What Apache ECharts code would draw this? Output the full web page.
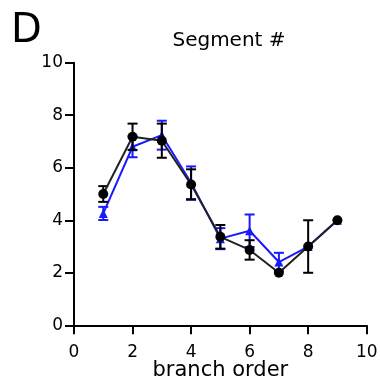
<!DOCTYPE html>
<html><head><meta charset="utf-8">
<script src="https://cdn.jsdelivr.net/npm/echarts@6/dist/echarts.min.js"></script>
<style>html,body{margin:0;padding:0;background:#fff}#c{width:380px;height:381px}</style>
</head><body><div id="c"></div>
<script>
var branchOrder = [1, 2, 3, 4, 5, 6, 7, 8, 9];
var blackMean = [5.0, 7.18, 7.03, 5.36, 3.37, 2.87, 2.0, 3.0, 4.0];
var blackErr  = [0.3, 0.5, 0.65, 0.58, 0.45, 0.37, 0, 1.0, 0];
var blueMean  = [4.26, 6.8, 7.24, 5.43, 3.3, 3.6, 2.41, 3.0, 4.0];
var blueErr   = [0.25, 0.4, 0.55, 0.62, 0.4, 0.62, 0.35, 0, 0];
var xTicks = [0, 2, 4, 6, 8, 10];
var yTicks = [0, 2, 4, 6, 8, 10];

function pts(m){ return branchOrder.map(function(x,i){return [x, m[i]];}); }
function errData(m,e){ return branchOrder.map(function(x,i){return [x, m[i]-e[i], m[i]+e[i]];}); }
function errSeries(m,e,color,z){
  return {
    type:'custom', z:z, silent:true,
    data: errData(m,e),
    encode:{x:0,y:[1,2]},
    renderItem:function(params, api){
      var lo = api.coord([api.value(0), api.value(1)]);
      var hi = api.coord([api.value(0), api.value(2)]);
      if (Math.abs(hi[1]-lo[1]) < 0.5) return null;
      var w = 5;
      var st = {stroke:color, lineWidth:2, fill:null};
      return {type:'group', children:[
        {type:'line', shape:{x1:lo[0],y1:lo[1],x2:hi[0],y2:hi[1]}, style:st},
        {type:'line', shape:{x1:lo[0]-w,y1:lo[1],x2:lo[0]+w,y2:lo[1]}, style:st},
        {type:'line', shape:{x1:hi[0]-w,y1:hi[1],x2:hi[0]+w,y2:hi[1]}, style:st}
      ]};
    }
  };
}
var font = 'DejaVu Sans, sans-serif';
var chart = echarts.init(document.getElementById('c'), null, {renderer:'canvas'});
chart.setOption({
  animation:false,
  backgroundColor:'#fff',
  title:[
    {text:'D', left:6, top:7, textStyle:{fontFamily:font, fontSize:40, fontWeight:'normal', color:'#000'}},
    {text:'Segment #', left:224, top:26, textAlign:'center', textStyle:{fontFamily:font, fontSize:20, fontWeight:'normal', color:'#000'}}
  ],
  grid:{left:74, right:13.3, top:62.7, bottom:55.7, containLabel:false, outerBoundsMode:'none'},
  xAxis:{
    type:'value', min:0, max:10, interval:2,
    name:'branch order', nameLocation:'middle', nameGap:35, nameMoveOverlap:false,
    nameTextStyle:{fontFamily:font, fontSize:21, color:'#000', verticalAlign:'top'},
    axisLine:{show:true, onZero:false, lineStyle:{color:'#000', width:2}},
    axisTick:{show:true, length:9, lineStyle:{color:'#000', width:2}},
    axisLabel:{fontFamily:font, fontSize:17, color:'#000', margin:19},
    splitLine:{show:false}
  },
  yAxis:{
    type:'value', min:0, max:10, interval:2,
    axisLine:{show:true, lineStyle:{color:'#000', width:2}},
    axisTick:{show:true, length:9, lineStyle:{color:'#000', width:2}},
    axisLabel:{fontFamily:font, fontSize:17, color:'#000', margin:11},
    splitLine:{show:false}
  },
  series:[
    errSeries(blueMean, blueErr, '#1a1aff', 2),
    {type:'line', z:3, data:pts(blueMean), symbol:'triangle', symbolSize:9,
      lineStyle:{color:'#1a1aff', width:2}, itemStyle:{color:'#1a1aff'}},
    errSeries(blackMean, blackErr, '#000', 4),
    {type:'line', z:5, data:pts(blackMean), symbol:'circle', symbolSize:10,
      lineStyle:{color:'#222', width:2}, itemStyle:{color:'#000'}}
  ]
});
</script></body></html>
